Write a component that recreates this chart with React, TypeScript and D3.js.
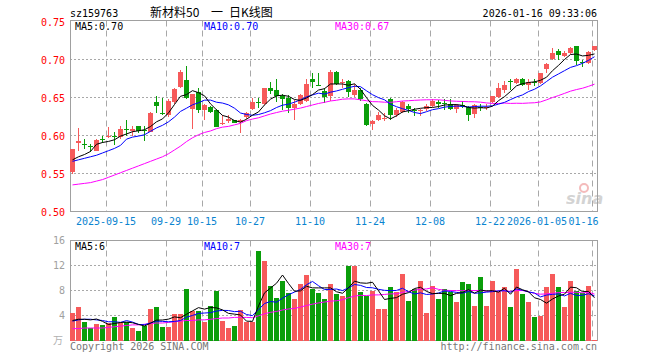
import * as d3 from "d3";
import { useEffect, useRef } from "react";

// trading days shown, 2025-09-05 .. 2026-01-16
const days = [
  "2025-09-05", "2025-09-08", "2025-09-09", "2025-09-10", "2025-09-11", "2025-09-12",
  "2025-09-15", "2025-09-16", "2025-09-17", "2025-09-18", "2025-09-19", "2025-09-22",
  "2025-09-23", "2025-09-24", "2025-09-25", "2025-09-26", "2025-09-29", "2025-09-30",
  "2025-10-09", "2025-10-10", "2025-10-13", "2025-10-14", "2025-10-15", "2025-10-16",
  "2025-10-17", "2025-10-20", "2025-10-21", "2025-10-22", "2025-10-23", "2025-10-24",
  "2025-10-27", "2025-10-28", "2025-10-29", "2025-10-30", "2025-10-31", "2025-11-03",
  "2025-11-04", "2025-11-05", "2025-11-06", "2025-11-07", "2025-11-10", "2025-11-11",
  "2025-11-12", "2025-11-13", "2025-11-14", "2025-11-17", "2025-11-18", "2025-11-19",
  "2025-11-20", "2025-11-21", "2025-11-24", "2025-11-25", "2025-11-26", "2025-11-27",
  "2025-11-28", "2025-12-01", "2025-12-02", "2025-12-03", "2025-12-04", "2025-12-05",
  "2025-12-08", "2025-12-09", "2025-12-10", "2025-12-11", "2025-12-12", "2025-12-15",
  "2025-12-16", "2025-12-17", "2025-12-18", "2025-12-19", "2025-12-22", "2025-12-23",
  "2025-12-24", "2025-12-25", "2025-12-26", "2025-12-29", "2025-12-30", "2025-12-31",
  "2026-01-05", "2026-01-06", "2026-01-07", "2026-01-08", "2026-01-09", "2026-01-12",
  "2026-01-13", "2026-01-14", "2026-01-15", "2026-01-16",
];

const open = [
  0.552, 0.5895, 0.589, 0.586, 0.58, 0.595, 0.599, 0.6, 0.598, 0.609, 0.606, 0.612, 0.607, 0.605,
  0.644, 0.629, 0.627, 0.644, 0.664, 0.673, 0.635, 0.657, 0.634, 0.638, 0.634, 0.615, 0.619, 0.621,
  0.618, 0.624, 0.635, 0.644, 0.641, 0.663, 0.6605, 0.652, 0.65, 0.636, 0.641, 0.6456, 0.674, 0.6665,
  0.658, 0.652, 0.684, 0.669, 0.6715, 0.6535, 0.6605, 0.642, 0.6145, 0.621, 0.622, 0.6474, 0.6268,
  0.631, 0.6386, 0.634, 0.632, 0.635, 0.6386, 0.6439, 0.6434, 0.6408, 0.6351, 0.64, 0.6377, 0.6285,
  0.638, 0.6368, 0.6439, 0.6509, 0.6596, 0.6719, 0.6693, 0.6746, 0.6658, 0.6708, 0.6693, 0.6877,
  0.7009, 0.711, 0.705, 0.7092, 0.7175, 0.6967, 0.696, 0.7123,
];
const high = [
  0.582, 0.61, 0.596, 0.589, 0.595, 0.6, 0.611, 0.605, 0.612, 0.62, 0.613, 0.613, 0.613, 0.631,
  0.652, 0.65, 0.648, 0.662, 0.686, 0.691, 0.655, 0.662, 0.641, 0.639, 0.635, 0.627, 0.627, 0.621,
  0.622, 0.631, 0.649, 0.65, 0.663, 0.6706, 0.674, 0.655, 0.653, 0.647, 0.655, 0.675, 0.6825, 0.6825,
  0.662, 0.686, 0.685, 0.674, 0.673, 0.6675, 0.662, 0.643, 0.621, 0.631, 0.63, 0.649, 0.636,
  0.6457, 0.641, 0.636, 0.6355, 0.6408, 0.6474, 0.6465, 0.6474, 0.6483, 0.6408, 0.6452, 0.6386, 0.6408,
  0.6408, 0.6408, 0.6526, 0.6693, 0.6715, 0.6737, 0.6759, 0.6759, 0.6746, 0.6746, 0.6825, 0.6956,
  0.7154, 0.7132, 0.711, 0.716, 0.7175, 0.7, 0.711, 0.7184,
];
const low = [
  0.55, 0.58, 0.582, 0.578, 0.579, 0.59, 0.597, 0.588, 0.595, 0.6, 0.6, 0.603, 0.593, 0.604,
  0.63, 0.627, 0.624, 0.642, 0.663, 0.648, 0.609, 0.629, 0.62, 0.63, 0.611, 0.614, 0.616, 0.616,
  0.603, 0.622, 0.633, 0.636, 0.64, 0.655, 0.644, 0.633, 0.63, 0.62, 0.64, 0.644, 0.663, 0.665,
  0.643, 0.646, 0.667, 0.662, 0.651, 0.651, 0.646, 0.612, 0.607, 0.619, 0.619, 0.621, 0.625,
  0.63, 0.63, 0.626, 0.626, 0.632, 0.6377, 0.6364, 0.6333, 0.6342, 0.6298, 0.6364, 0.6197, 0.6232,
  0.632, 0.6342, 0.643, 0.6496, 0.6561, 0.6596, 0.6684, 0.6649, 0.6596, 0.6649, 0.668, 0.6825,
  0.6991, 0.7, 0.703, 0.707, 0.6934, 0.6904, 0.6947, 0.711,
];
const close = [
  0.582, 0.593, 0.588, 0.585, 0.594, 0.594, 0.6, 0.599, 0.609, 0.608, 0.609, 0.606, 0.606, 0.63,
  0.639, 0.628, 0.646, 0.661, 0.684, 0.65, 0.654, 0.633, 0.64, 0.631, 0.611, 0.617, 0.622, 0.617,
  0.621, 0.63, 0.644, 0.643, 0.663, 0.659, 0.652, 0.648, 0.636, 0.642, 0.653, 0.668, 0.67, 0.666,
  0.651, 0.684, 0.668, 0.67, 0.6575, 0.6605, 0.6474, 0.6136, 0.619, 0.627, 0.623, 0.6268, 0.634,
  0.6443, 0.6346, 0.633, 0.633, 0.6386, 0.6452, 0.6408, 0.643, 0.6351, 0.6395, 0.6395, 0.6267, 0.6395,
  0.6377, 0.6373, 0.6518, 0.6627, 0.6662, 0.6715, 0.6746, 0.6658, 0.6706, 0.6706, 0.6816, 0.6947,
  0.7088, 0.7057, 0.7092, 0.7145, 0.6978, 0.6963, 0.7096, 0.7184,
];
// volume, in 万
const volume = [
  4.4, 5.3, 2.9, 2.0, 2.6, 2.5, 2.8, 3.7, 2.8, 2.9, 2.0, 1.5, 2.4, 5.0, 5.4, 2.1, 2.2, 4.2, 4.3,
  8.2, 4.8, 4.8, 3.0, 5.6, 7.9, 3.2, 2.0, 2.4, 4.9, 3.0, 3.0, 14.4, 12.8, 8.8, 6.8, 9.6, 7.6, 6.6,
  9.1, 10.5, 8.3, 7.6, 6.6, 9.1, 7.4, 7.1, 11.9, 12.0, 7.7, 7.1, 7.9, 5.1, 5.0, 8.6, 7.7, 10.6,
  6.4, 8.3, 9.6, 4.4, 8.8, 6.6, 8.3, 7.8, 6.2, 9.4, 9.0, 5.5, 10.2, 5.6, 9.6, 7.8, 8.6, 5.4, 11.4,
  7.4, 6.2, 3.8, 4.0, 8.5, 10.7, 8.6, 5.3, 9.6, 8.0, 7.6, 8.8, 0.16,
];

// moving averages at the left edge, before enough candles are in view
const ma5Lead = [0.568, 0.572, 0.575, 0.579];
const ma10Lead = [0.566, 0.568, 0.57, 0.572, 0.574, 0.577, 0.58, 0.583, 0.587];
const ma30Lead = [
  0.535, 0.536, 0.537, 0.538, 0.54, 0.542, 0.545, 0.548, 0.551, 0.554, 0.557, 0.56, 0.563, 0.566,
  0.569, 0.572, 0.576, 0.581, 0.586, 0.592, 0.597, 0.601, 0.604, 0.606, 0.609, 0.611, 0.612, 0.614, 0.616,
];
const volMa5Lead = [3.2, 3.4, 3.4, 3.3];
const volMa10Lead = [3.1, 3.3, 3.4, 3.4, 3.3, 3.2, 3.0, 3.0, 2.9];
const volMa30Lead = [
  1.9, 1.9, 2.0, 2.0, 2.0, 2.0, 2.1, 2.2, 2.3, 2.4, 2.5, 2.5, 2.6, 2.7, 2.8, 2.8, 2.9, 3.0, 3.1,
  3.2, 3.2, 3.3, 3.3, 3.4, 3.5, 3.6, 3.6, 3.7, 3.7,
];

const tickDays = [
  "2025-09-15", "2025-09-29", "2025-10-15", "2025-10-27", "2025-11-10",
  "2025-11-24", "2025-12-08", "2025-12-22", "2026-01-05", "2026-01-16",
];
const tickLabels = ["2025-09-15", "09-29", "10-15", "10-27", "11-10", "11-24", "12-08", "12-22", "2026-01-05", "01-16"];
const priceTicks = [0.5, 0.55, 0.6, 0.65, 0.7, 0.75];
const volumeTicks = [4, 8, 12, 16];
const priceMaLabels = ["MA5:0.70", "MA10:0.70", "MA30:0.67"];
const volumeMaLabels = ["MA5:6", "MA10:7", "MA30:7"];

const RED = "#f65a5a";
const GREEN = "#0a9e0a";
const GRID = "#a8a8a8";
const MA_COLORS = ["#000000", "#0000ff", "#ff00ff"];
const MONO = "'DejaVu Sans Mono', 'Liberation Mono', monospace";

function movingAverage(values, n, lead) {
  return values.map((_, i) => (i < n - 1 ? lead[i] : d3.mean(values.slice(i - n + 1, i + 1))));
}

function drawChart(svgElement) {
  const width = 660;
  const height = 360;
  const left = 70;
  const right = 598;
  const svg = d3.select(svgElement);
  svg.selectAll("*").remove();
  svg.attr("width", width).attr("height", height).attr("viewBox", `0 0 ${width} ${height}`);

  const x = d3.scaleBand().domain(days).range([left, right]).padding(0);
  const bodyW = x.bandwidth() - 1;
  const cx = (d) => x(d) + bodyW / 2;
  const y = d3.scaleLinear().domain([0.5, 0.75]).range([211.5, 21.5]);
  const yv = d3.scaleLinear().domain([0, 16]).range([340.5, 240.5]);

  const up = close.map((c, i) => c >= open[i]);

  // header
  svg.append("text").attr("x", left).attr("y", 17).attr("font-family", MONO).attr("font-size", 10).text("sz159763");
  const cjk = "'Noto Sans CJK SC', sans-serif";
  svg.append("text").attr("x", 150).attr("y", 17).attr("font-family", cjk).attr("font-size", 12).text("新材料50");
  svg.append("text").attr("x", 211).attr("y", 17).attr("font-family", cjk).attr("font-size", 12).text("一");
  svg.append("text").attr("x", 229).attr("y", 17).attr("font-family", cjk).attr("font-size", 12).text("日K线图");
  svg
    .append("text")
    .attr("x", 597)
    .attr("y", 17)
    .attr("text-anchor", "end")
    .attr("font-family", MONO)
    .attr("font-size", 10)
    .text("2026-01-16 09:33:06");

  // sina watermark
  const mark = svg.append("g").attr("opacity", 0.9);
  mark.append("circle").attr("cx", 584).attr("cy", 188).attr("r", 4).attr("fill", "none").attr("stroke", "#f3b4b4").attr("stroke-width", 2);
  mark
    .append("text")
    .attr("x", 566)
    .attr("y", 204)
    .attr("font-family", "'DejaVu Sans', sans-serif")
    .attr("font-size", 16)
    .attr("font-weight", "bold")
    .attr("font-style", "italic")
    .attr("fill", "#cfcfcf")
    .text("sina");

  const panels = [
    { top: 20.5, bottom: 211.5 },
    { top: 240.5, bottom: 340.5 },
  ];

  // vertical dashed grid
  panels.forEach((p) => {
    svg
      .append("g")
      .selectAll("line")
      .data(tickDays)
      .join("line")
      .attr("x1", (d) => x(d) + 0.5)
      .attr("x2", (d) => x(d) + 0.5)
      .attr("y1", p.top)
      .attr("y2", p.bottom)
      .attr("stroke", GRID)
      .attr("stroke-dasharray", "6,4");
  });

  // horizontal dotted grid
  svg
    .append("g")
    .selectAll("line")
    .data(priceTicks.slice(1, -1))
    .join("line")
    .attr("x1", left)
    .attr("x2", right)
    .attr("y1", (d) => Math.round(y(d) - 0.5) + 0.5)
    .attr("y2", (d) => Math.round(y(d) - 0.5) + 0.5)
    .attr("stroke", GRID)
    .attr("stroke-dasharray", "2,2");
  svg
    .append("g")
    .selectAll("line")
    .data(volumeTicks.slice(0, -1))
    .join("line")
    .attr("x1", left)
    .attr("x2", right)
    .attr("y1", (d) => yv(d))
    .attr("y2", (d) => yv(d))
    .attr("stroke", GRID)
    .attr("stroke-dasharray", "2,2");

  // frames
  panels.forEach((p) => {
    svg
      .append("rect")
      .attr("x", left + 0.5)
      .attr("y", p.top)
      .attr("width", right - left - 1)
      .attr("height", p.bottom - p.top)
      .attr("fill", "none")
      .attr("stroke", "#a0a0a0");
  });

  // price axis labels
  svg
    .append("g")
    .selectAll("text")
    .data(priceTicks)
    .join("text")
    .attr("x", 65)
    .attr("y", (d) => y(d) + 4)
    .attr("text-anchor", "end")
    .attr("font-family", MONO)
    .attr("font-size", 10)
    .attr("fill", "#ff0000")
    .text((d) => d.toFixed(2));

  // volume axis labels
  svg
    .append("g")
    .selectAll("text")
    .data(volumeTicks)
    .join("text")
    .attr("x", 65)
    .attr("y", (d) => yv(d) + 3.5)
    .attr("text-anchor", "end")
    .attr("font-family", MONO)
    .attr("font-size", 10)
    .attr("fill", "#a0a0a0")
    .text((d) => d);
  svg
    .append("text")
    .attr("x", 63)
    .attr("y", 344)
    .attr("text-anchor", "end")
    .attr("font-family", "'Noto Sans CJK SC', sans-serif")
    .attr("font-size", 10)
    .attr("fill", "#b0b0b0")
    .text("万");

  // date labels; the last one is pinned to the right edge so it stays inside the frame
  const lastTick = tickDays.length - 1;
  svg
    .append("g")
    .selectAll("text")
    .data(tickDays)
    .join("text")
    .attr("x", (d, i) => (i === lastTick ? right + 0.5 : i === lastTick - 1 ? x(d) - 1 : x(d)))
    .attr("y", 225)
    .attr("text-anchor", (d, i) => (i === lastTick ? "end" : "middle"))
    .attr("font-family", MONO)
    .attr("font-size", 10)
    .attr("fill", "#0a84d0")
    .text((d, i) => tickLabels[i]);

  // candles
  const candles = svg.append("g").attr("shape-rendering", "crispEdges");
  candles
    .selectAll("line")
    .data(days)
    .join("line")
    .attr("x1", (d) => cx(d))
    .attr("x2", (d) => cx(d))
    .attr("y1", (d, i) => y(high[i]))
    .attr("y2", (d, i) => y(low[i]))
    .attr("stroke", (d, i) => (up[i] ? RED : GREEN));
  candles
    .selectAll("rect")
    .data(days)
    .join("rect")
    .attr("x", (d) => x(d))
    .attr("y", (d, i) => y(Math.max(open[i], close[i])))
    .attr("width", bodyW)
    .attr("height", (d, i) => Math.max(1, Math.abs(y(open[i]) - y(close[i]))))
    .attr("fill", (d, i) => (up[i] ? RED : GREEN));

  // volume bars
  svg
    .append("g")
    .attr("shape-rendering", "crispEdges")
    .selectAll("rect")
    .data(days)
    .join("rect")
    .attr("x", (d) => x(d))
    .attr("y", (d, i) => yv(volume[i]))
    .attr("width", bodyW)
    .attr("height", (d, i) => yv(0) - yv(volume[i]))
    .attr("fill", (d, i) => (up[i] ? RED : GREEN));

  // moving average lines
  const priceMa = [movingAverage(close, 5, ma5Lead), movingAverage(close, 10, ma10Lead), movingAverage(close, 30, ma30Lead)];
  const volumeMa = [
    movingAverage(volume, 5, volMa5Lead),
    movingAverage(volume, 10, volMa10Lead),
    movingAverage(volume, 30, volMa30Lead),
  ];
  const priceLine = d3.line().x((v, i) => cx(days[i])).y((v) => y(v));
  const volumeLine = d3.line().x((v, i) => cx(days[i])).y((v) => yv(v));
  [2, 1, 0].forEach((k) => {
    svg.append("path").attr("d", priceLine(priceMa[k])).attr("fill", "none").attr("stroke", MA_COLORS[k]).attr("stroke-width", 1);
    svg.append("path").attr("d", volumeLine(volumeMa[k])).attr("fill", "none").attr("stroke", MA_COLORS[k]).attr("stroke-width", 1);
  });

  // MA legends
  const legendX = [75, 204, 335];
  priceMaLabels.forEach((label, k) => {
    svg.append("text").attr("x", legendX[k]).attr("y", 29.5).attr("font-family", MONO).attr("font-size", 10).attr("fill", MA_COLORS[k]).text(label);
  });
  volumeMaLabels.forEach((label, k) => {
    svg.append("text").attr("x", legendX[k]).attr("y", 250).attr("font-family", MONO).attr("font-size", 10).attr("fill", MA_COLORS[k]).text(label);
  });

  // footer
  svg.append("text").attr("x", left).attr("y", 350).attr("font-family", MONO).attr("font-size", 10).attr("fill", "#777").text("Copyright 2026 SINA.COM");
  svg
    .append("text")
    .attr("x", 597)
    .attr("y", 350)
    .attr("text-anchor", "end")
    .attr("font-family", MONO)
    .attr("font-size", 10)
    .attr("fill", "#777")
    .text("http://finance.sina.com.cn");
}

export default function App() {
  const svgRef = useRef(null);

  useEffect(() => {
    drawChart(svgRef.current);
  }, []);

  return (
    <svg
      ref={svgRef}
      role="img"
      aria-label="新材料50 日K线图"
      style={{ position: "fixed", left: 0, top: 0, background: "#fff" }}
    />
  );
}
